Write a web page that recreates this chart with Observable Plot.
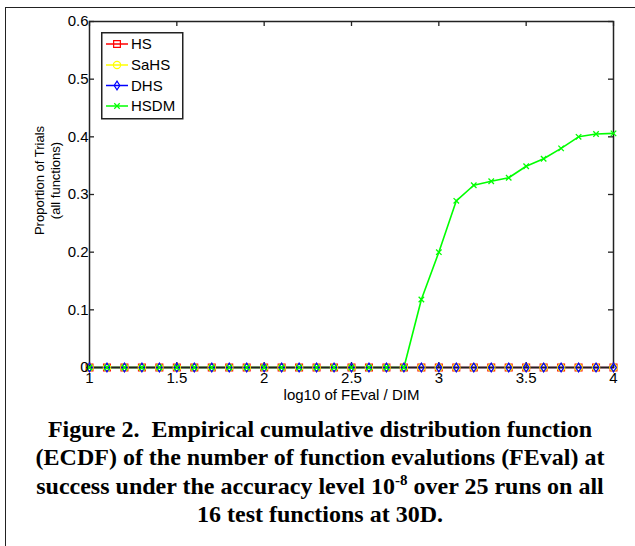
<!DOCTYPE html>
<html><head><meta charset="utf-8">
<script src="https://cdn.jsdelivr.net/npm/d3@7"></script>
<script src="https://cdn.jsdelivr.net/npm/@observablehq/plot@0.6"></script>
<style>
html,body{margin:0;padding:0;background:#fff;}
#wrap{position:relative;width:635px;height:546px;overflow:hidden;background:#fff;}
#border{position:absolute;left:5px;top:7px;width:700px;height:600px;border-top:1.5px solid #222;border-left:1.5px solid #222;}
#chart{position:absolute;left:0;top:0;}
#legend{position:absolute;left:101px;top:32px;}
#caption{position:absolute;left:5px;top:415px;width:630px;text-align:center;font-family:"Liberation Serif","Times New Roman",serif;font-weight:bold;font-size:24px;line-height:28.3px;color:#000;}
#caption .sup{position:relative;top:-9px;font-size:15px;line-height:0;}
</style></head><body>
<div id="wrap"><div id="border"></div><div id="chart"></div><div id="legend"></div>
<div id="caption">Figure 2.&nbsp; Empirical cumulative distribution function<br>(ECDF) of the number of function evalutions (FEval) at<br>success under the accuracy level 10<span class="sup">-8</span> over 25 runs on all<br>16 test functions at 30D.</div></div>
<script>
const xValues = [1.0,1.1,1.2,1.3,1.4,1.5,1.6,1.7,1.8,1.9,2.0,2.1,2.2,2.3,2.4,2.5,2.6,2.7,2.8,2.9,3.0,3.1,3.2,3.3,3.4,3.5,3.6,3.7,3.8,3.9,4.0];
const hs   = [0,0,0,0,0,0,0,0,0,0,0,0,0,0,0,0,0,0,0,0,0,0,0,0,0,0,0,0,0,0,0];
const sahs = [0,0,0,0,0,0,0,0,0,0,0,0,0,0,0,0,0,0,0,0,0,0,0,0,0,0,0,0,0,0,0];
const dhs  = [0,0,0,0,0,0,0,0,0,0,0,0,0,0,0,0,0,0,0,0,0,0,0,0,0,0,0,0,0,0,0];
const hsdm = [0,0,0,0,0,0,0,0,0,0,0,0,0,0,0,0,0,0,0,0.118,0.2,0.289,0.316,0.323,0.329,0.349,0.362,0.38,0.4,0.405,0.406];
const seriesNames = ["HS","SaHS","DHS","HSDM"];
const seriesColors = ["#ff0000","#ffff00","#0000ff","#00ff00"];
const xTicks = [1,1.5,2,2.5,3,3.5,4];
const yTicks = [0,0.1,0.2,0.3,0.4,0.5,0.6];
const xLabel = "log10 of FEval / DIM";
const yLabel = "Proportion of Trials\n(all functions)";

const seriesValues = [hs, sahs, dhs, hsdm];
const rows = [];
seriesNames.forEach((name, i) => xValues.forEach((x, j) => rows.push({series: name, x, y: seriesValues[i][j]})));

const tallDiamond = {draw(ctx, size){const r = Math.sqrt(size/Math.PI); ctx.moveTo(0,-1.25*r); ctx.lineTo(0.8*r,0); ctx.lineTo(0,1.25*r); ctx.lineTo(-0.8*r,0); ctx.closePath();}};
const symbols = ["square","circle",tallDiamond,"times"];
const radii = [3.8,3.6,3.5,2.6];

const dotMarks = seriesNames.map((name, i) => Plot.dot(rows.filter(d => d.series === name), {
  x: "x", y: "y", symbol: symbols[i], r: radii[i], fill: "none", stroke: seriesColors[i], strokeWidth: 1.3
}));

const chart = Plot.plot({
  width: 635, height: 405,
  marginTop: 21, marginLeft: 89, marginRight: 22, marginBottom: 38,
  style: {fontFamily: "'Liberation Sans', Arial, sans-serif", fontSize: "15px", color: "black", background: "transparent", overflow: "visible"},
  x: {domain: [1, 4]},
  y: {domain: [0, 0.6]},
  color: {domain: seriesNames, range: seriesColors},
  marks: [
    Plot.line(rows, {x: "x", y: "y", z: "series", stroke: d => seriesColors[seriesNames.indexOf(d.series)], strokeWidth: 1.6}),
    Plot.frame({stroke: "#222", strokeWidth: 1.5}),
    Plot.tickX(xTicks, {x: d => d, insetTop: 341, stroke: "#222", strokeWidth: 1.3}),
    Plot.tickX(xTicks, {x: d => d, insetBottom: 341, stroke: "#222", strokeWidth: 1.3}),
    Plot.tickY(yTicks, {y: d => d, insetRight: 519, stroke: "#222", strokeWidth: 1.3}),
    Plot.tickY(yTicks, {y: d => d, insetLeft: 519, stroke: "#222", strokeWidth: 1.3}),
    ...dotMarks,
    Plot.axisX({ticks: xTicks, tickSize: 0, tickPadding: 5, tickFormat: d3.format("~g"), label: null, fontSize: 15}),
    Plot.axisY({ticks: yTicks, tickSize: 0, tickPadding: 1, tickFormat: d3.format("~g"), label: null, fontSize: 15}),
    Plot.text([xLabel], {text: d => d, frameAnchor: "bottom", textAnchor: "middle", lineAnchor: "middle", dy: 28, fontSize: 15}),
    Plot.text([yLabel], {text: d => d, frameAnchor: "left", textAnchor: "middle", lineAnchor: "middle", rotate: -90, dx: -43, dy: -14, lineHeight: 1.23, fontSize: 13})
  ]
});
document.getElementById("chart").appendChild(chart);

// legend
const rowY = [12, 33, 53.5, 74];
const symPath = (s, r) => d3.symbol(typeof s === "string" ? {square: d3.symbolSquare, circle: d3.symbolCircle, times: d3.symbolTimes}[s] : s, Math.PI*r*r)();
let lg = `<svg width="84" height="90" xmlns="http://www.w3.org/2000/svg" style="font-family:'Liberation Sans',Arial,sans-serif;font-size:15px">`;
lg += `<rect x="0.75" y="0.75" width="81" height="86" fill="#fff" stroke="#222" stroke-width="1.5"/>`;
seriesNames.forEach((name, i) => {
  const y = rowY[i];
  lg += `<line x1="5" x2="27" y1="${y}" y2="${y}" stroke="${seriesColors[i]}" stroke-width="1.5"/>`;
  lg += `<path transform="translate(16,${y})" d="${symPath(symbols[i], radii[i])}" fill="none" stroke="${seriesColors[i]}" stroke-width="1.2"/>`;
  lg += `<text x="30" y="${y}" dy="0.36em">${name}</text>`;
});
lg += `</svg>`;
document.getElementById("legend").innerHTML = lg;
</script>
</body></html>
